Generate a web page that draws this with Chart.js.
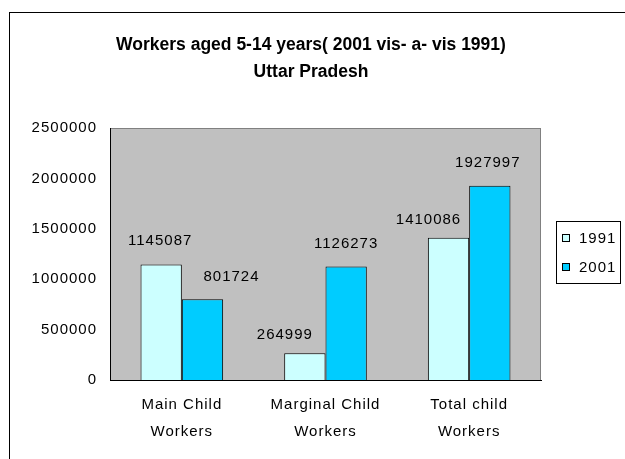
<!DOCTYPE html>
<html>
<head>
<meta charset="utf-8">
<script src="https://cdn.jsdelivr.net/npm/chart.js@4.4.0/dist/chart.umd.min.js"></script>
<style>
  html, body { margin: 0; padding: 0; background: #fff; }
  #wrap { width: 625px; height: 459px; }
</style>
</head>
<body>
<div id="wrap"><canvas id="workersChart" width="625" height="459"></canvas></div>
<script>
// data
const categories = [['Main Child', 'Workers'], ['Marginal Child', 'Workers'], ['Total child', 'Workers']];
const seriesNames = ['1991', '2001'];
const values1991 = [1145087, 264999, 1410086];
const values2001 = [801724, 1126273, 1927997];
const yMin = 0;
const yMax = 2500000;
const yStep = 500000;
const titleLines = ['Workers aged 5-14 years( 2001 vis- a- vis 1991)', 'Uttar Pradesh'];

const FONT = '"Liberation Sans", Arial, sans-serif';
const colors = ['#CCFFFF', '#00CCFF'];
// the old excel text is drawn wide, a bit of tracking gets close to it
const SPACING = '1px';

// where excel put each value label, relative to the top of its bar
const labelShift = [
    [[-1, -24], [-20, -18], [-20, -18]],
    [[29, -22], [0, -23], [-2, -23]],
];

// white page, outer frame, title, grey plot area
const frame = {
    id: 'frame',
    beforeUpdate(chart) {
        chart.ctx.letterSpacing = SPACING;
    },
    beforeDraw(chart) {
        const c = chart.ctx;
        const a = chart.chartArea;
        c.save();
        c.fillStyle = '#fff';
        c.fillRect(0, 0, chart.width, chart.height);
        c.strokeStyle = '#000';
        c.lineWidth = 1;
        c.strokeRect(9.5, 12.5, 630, 470);

        c.letterSpacing = '0px';
        c.font = 'bold 17.5px ' + FONT;
        c.fillStyle = '#000';
        c.textAlign = 'center';
        c.textBaseline = 'middle';
        titleLines.forEach((t, i) => c.fillText(t, 311, 45 + i * 27));

        c.fillStyle = '#C0C0C0';
        c.fillRect(a.left, a.top, a.right - a.left, a.bottom - a.top);
        c.strokeStyle = '#808080';
        c.strokeRect(a.left + 0.5, a.top + 0.5, a.right - a.left - 1, a.bottom - a.top);
        c.restore();
        c.letterSpacing = SPACING;
    },
};

// value labels above bars
const valueLabels = {
    id: 'valueLabels',
    afterDatasetsDraw(chart) {
        const c = chart.ctx;
        c.save();
        c.font = '15px ' + FONT;
        c.fillStyle = '#000';
        c.textAlign = 'center';
        c.textBaseline = 'middle';
        chart.data.datasets.forEach((ds, i) => {
            chart.getDatasetMeta(i).data.forEach((bar, j) => {
                const s = labelShift[i][j];
                c.fillText(String(ds.data[j]), bar.x + s[0], bar.y + s[1]);
            });
        });
        c.restore();
    },
};

// boxed legend on the right
const boxLegend = {
    id: 'boxLegend',
    afterDraw(chart) {
        const c = chart.ctx;
        c.save();
        c.fillStyle = '#fff';
        c.fillRect(556, 221, 64, 62);
        c.strokeStyle = '#000';
        c.lineWidth = 1;
        c.strokeRect(556.5, 221.5, 64, 62);
        c.font = '15px ' + FONT;
        c.textBaseline = 'middle';
        chart.data.datasets.forEach((ds, i) => {
            const y = 238 + i * 29;
            c.fillStyle = ds.backgroundColor;
            c.fillRect(562, y - 4, 8, 8);
            c.strokeRect(562.5, y - 3.5, 7, 7);
            c.fillStyle = '#000';
            c.fillText(ds.label, 579, y + 1);
        });
        c.restore();
    },
};

const ctx = document.getElementById('workersChart').getContext('2d');
new Chart(ctx, {
    type: 'bar',
    data: {
        labels: categories,
        datasets: [
            { label: seriesNames[0], data: values1991, backgroundColor: colors[0], borderColor: '#000', borderWidth: 1 },
            { label: seriesNames[1], data: values2001, backgroundColor: colors[1], borderColor: '#000', borderWidth: 1 },
        ],
    },
    options: {
        responsive: false,
        animation: false,
        events: [],
        layout: { padding: { left: 0, right: 84, top: 128, bottom: 0 } },
        datasets: { bar: { categoryPercentage: 0.575, barPercentage: 1 } },
        plugins: {
            legend: { display: false },
            tooltip: { enabled: false },
            title: { display: false },
        },
        scales: {
            x: {
                grid: { display: false, drawTicks: false },
                border: { color: '#000', width: 1 },
                ticks: { color: '#000', font: { family: FONT, size: 15, lineHeight: 1.8 }, padding: 11, maxRotation: 0 },
                afterFit(scale) { scale.height = 79; },
            },
            y: {
                min: yMin,
                max: yMax,
                grid: { display: false, drawTicks: false },
                border: { color: '#000', width: 1 },
                ticks: {
                    stepSize: yStep,
                    color: '#000',
                    font: { family: FONT, size: 15 },
                    padding: 13,
                    callback: (v) => String(v),
                },
                afterFit(scale) { scale.width = 110; },
            },
        },
    },
    plugins: [frame, valueLabels, boxLegend],
});
</script>
</body>
</html>
